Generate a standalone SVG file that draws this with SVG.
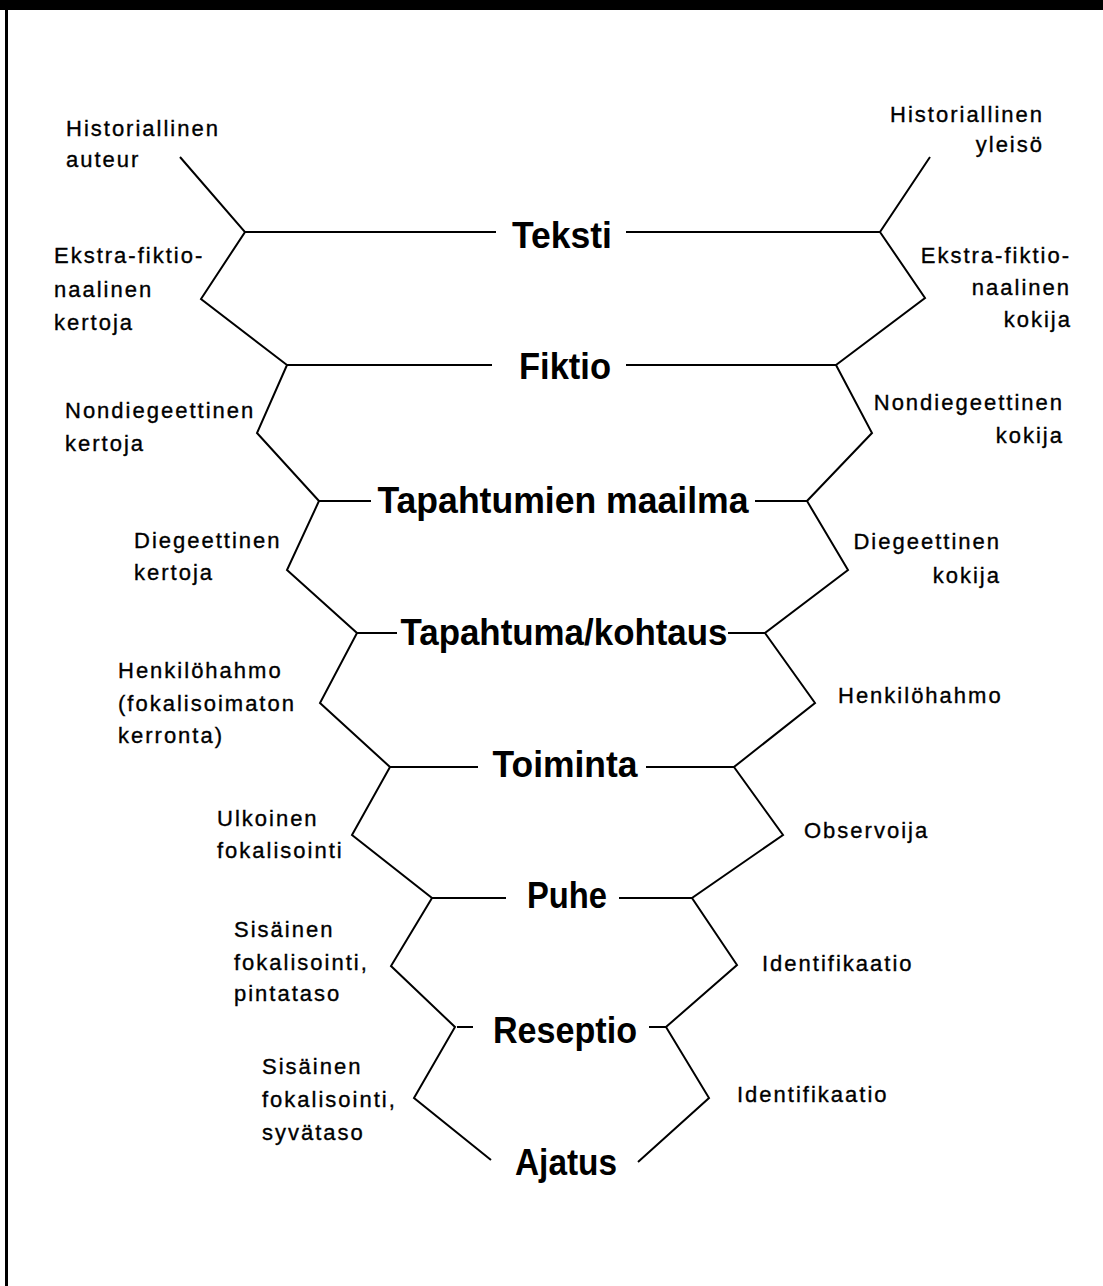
<svg xmlns="http://www.w3.org/2000/svg" width="1103" height="1286" viewBox="0 0 1103 1286">
<style>
.lbl{font-family:"Liberation Sans",Arial,sans-serif;font-size:22px;letter-spacing:2px;fill:#000;stroke:#000;stroke-width:0.35}
.end{text-anchor:end}
.lvl{font-family:"Liberation Sans",Arial,sans-serif;font-size:37px;font-weight:bold;fill:#000;text-anchor:middle}
.ln{fill:none;stroke:#000;stroke-width:2;stroke-linejoin:miter}
</style>
<rect x="0" y="0" width="1103" height="1286" fill="#fff"/>
<rect x="0" y="0" width="1103" height="10" fill="#000"/>
<rect x="5" y="0" width="3" height="1286" fill="#000"/>

<g id="connectors">
<polyline class="ln" points="180,157 245,232 201,299 287,365 257,433 319,501 287,570 357,633 320,703 390,767 352,835 432,898 391,966 455,1027 414,1098 491,1160"/>
<polyline class="ln" points="930,157 880,232 925,298 836,365 872,433 807,501 848,570 765,633 815,703 734,767 783,835 692,898 737,965 666,1027 709,1098 638,1162"/>
<path class="ln" d="M245,232H496M626,232H880M287,365H492M626,365H836M319,501H371M755,501H807M357,633H397M728,633H765M390,767H478M646,767H734M432,898H506M619,898H692M457,1027H473M649,1027H666"/>
</g>

<g id="teksti"><text class="lvl" x="562" y="248" textLength="100" lengthAdjust="spacingAndGlyphs">Teksti</text></g>
<g id="fiktio"><text class="lvl" x="565" y="379" textLength="92" lengthAdjust="spacingAndGlyphs">Fiktio</text></g>
<g id="tapahtumien-maailma"><text class="lvl" x="563" y="513" textLength="371" lengthAdjust="spacingAndGlyphs">Tapahtumien maailma</text></g>
<g id="tapahtuma-kohtaus"><text class="lvl" x="564" y="645" textLength="327" lengthAdjust="spacingAndGlyphs">Tapahtuma/kohtaus</text></g>
<g id="toiminta"><text class="lvl" x="565" y="777" textLength="145" lengthAdjust="spacingAndGlyphs">Toiminta</text></g>
<g id="puhe"><text class="lvl" x="567" y="908" textLength="80" lengthAdjust="spacingAndGlyphs">Puhe</text></g>
<g id="reseptio"><text class="lvl" x="565" y="1043" textLength="144" lengthAdjust="spacingAndGlyphs">Reseptio</text></g>
<g id="ajatus"><text class="lvl" x="566" y="1175" textLength="102" lengthAdjust="spacingAndGlyphs">Ajatus</text></g>

<g id="left-labels">
<g id="hist-auteur"><text class="lbl" x="66" y="136">Historiallinen</text><text class="lbl" x="66" y="167">auteur</text></g>
<g id="ekstra-kertoja"><text class="lbl" x="54" y="263">Ekstra-fiktio-</text><text class="lbl" x="54" y="297">naalinen</text><text class="lbl" x="54" y="330">kertoja</text></g>
<g id="nondieg-kertoja"><text class="lbl" x="65" y="418">Nondiegeettinen</text><text class="lbl" x="65" y="451">kertoja</text></g>
<g id="dieg-kertoja"><text class="lbl" x="134" y="548">Diegeettinen</text><text class="lbl" x="134" y="580">kertoja</text></g>
<g id="henkilohahmo-l"><text class="lbl" x="118" y="678">Henkilöhahmo</text><text class="lbl" x="118" y="711">(fokalisoimaton</text><text class="lbl" x="118" y="743">kerronta)</text></g>
<g id="ulkoinen"><text class="lbl" x="217" y="826">Ulkoinen</text><text class="lbl" x="217" y="858">fokalisointi</text></g>
<g id="sisainen-pinta"><text class="lbl" x="234" y="937">Sisäinen</text><text class="lbl" x="234" y="970">fokalisointi,</text><text class="lbl" x="234" y="1001">pintataso</text></g>
<g id="sisainen-syva"><text class="lbl" x="262" y="1074">Sisäinen</text><text class="lbl" x="262" y="1107">fokalisointi,</text><text class="lbl" x="262" y="1140">syvätaso</text></g>
</g>

<g id="right-labels">
<g id="hist-yleiso"><text class="lbl end" x="1044" y="122">Historiallinen</text><text class="lbl end" x="1044" y="152">yleisö</text></g>
<g id="ekstra-kokija"><text class="lbl end" x="1071" y="263">Ekstra-fiktio-</text><text class="lbl end" x="1071" y="295">naalinen</text><text class="lbl end" x="1072" y="327">kokija</text></g>
<g id="nondieg-kokija"><text class="lbl end" x="1064" y="410">Nondiegeettinen</text><text class="lbl end" x="1064" y="443">kokija</text></g>
<g id="dieg-kokija"><text class="lbl end" x="1001" y="549">Diegeettinen</text><text class="lbl end" x="1001" y="583">kokija</text></g>
<g id="henkilohahmo-r"><text class="lbl" x="838" y="703">Henkilöhahmo</text></g>
<g id="observoija"><text class="lbl" x="804" y="838">Observoija</text></g>
<g id="identifikaatio-1"><text class="lbl" x="762" y="971">Identifikaatio</text></g>
<g id="identifikaatio-2"><text class="lbl" x="737" y="1102">Identifikaatio</text></g>
</g>
</svg>
